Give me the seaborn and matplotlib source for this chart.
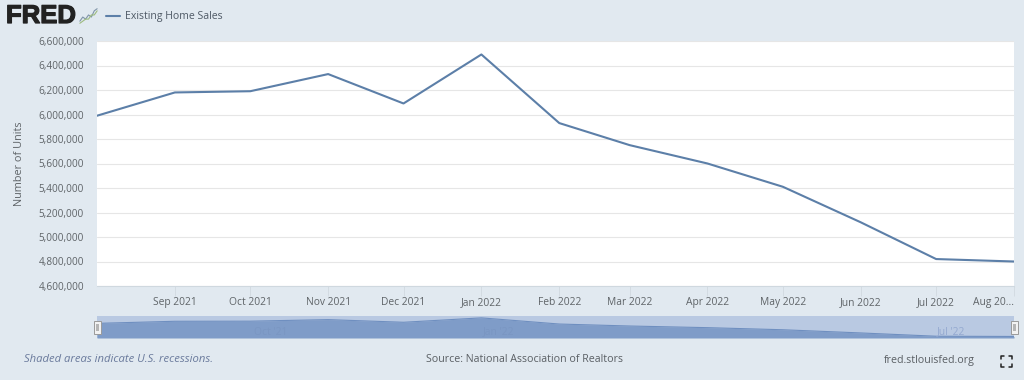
import pandas as pd
import matplotlib
matplotlib.use('Agg')
import matplotlib.pyplot as plt
import matplotlib.patheffects as pe
from matplotlib.ticker import StrMethodFormatter
import seaborn as sns

# data
months = ['2021-08-01', '2021-09-01', '2021-10-01', '2021-11-01', '2021-12-01', '2022-01-01', '2022-02-01',
          '2022-03-01', '2022-04-01', '2022-05-01', '2022-06-01', '2022-07-01', '2022-08-01']
sales = [5990000, 6180000, 6190000, 6330000, 6090000, 6490000, 5930000,
         5750000, 5600000, 5410000, 5120000, 4820000, 4800000]
tick_months = months[1:]
tick_labels = ['Sep 2021', 'Oct 2021', 'Nov 2021', 'Dec 2021', 'Jan 2022', 'Feb 2022',
               'Mar 2022', 'Apr 2022', 'May 2022', 'Jun 2022', 'Jul 2022', 'Aug 20...']
y_ticks = [4600000, 4800000, 5000000, 5200000, 5400000, 5600000, 5800000,
           6000000, 6200000, 6400000, 6600000]
nav_ticks = ['2021-10-09', '2022-01-08', '2022-07-07']
nav_labels = ["Oct '21", "Jan '22", "Jul '22"]
nav_colors = ['#7a96c2', '#7a96c2', '#94a9d0']
icon_a = [1, 3, 2, 4, 3, 6, 7]
icon_b = [0, 1, 2, 2, 4, 4, 6]

sns.set_theme(style='white')
plt.rcParams['font.family'] = ['Open Sans', 'DejaVu Sans']

BG = '#e1e9f0'
LINE = '#5c7fa8'
TXT = '#5f6468'
W, H = 1024, 380

df = pd.DataFrame({'date': pd.to_datetime(months), 'sales': sales})
ticks = pd.to_datetime(tick_months)
xlim = (df['date'].iloc[0], df['date'].iloc[-1])


def box(x0, y0, x1, y1):
    # pixel box (top-left origin) to figure fractions
    return [x0 / W, 1 - y1 / H, (x1 - x0) / W, (y1 - y0) / H]


fig = plt.figure(figsize=(10.24, 3.8), dpi=100, facecolor=BG)

# main chart
ax = fig.add_axes(box(97, 41, 1014, 286))
sns.lineplot(data=df, x='date', y='sales', color=LINE, linewidth=1.5, ax=ax)
ax.set_xlim(xlim)
ax.set_ylim(4600000, 6600000)
ax.set_yticks(y_ticks)
ax.yaxis.set_major_formatter(StrMethodFormatter('{x:,.0f}'))
ax.set_xticks(ticks)
ax.set_xticklabels(tick_labels)
ax.grid(axis='y', color='#e6e6e6', linewidth=0.8)
ax.set_axisbelow(True)
ax.set_xlabel('')
ax.set_ylabel('Number of Units', fontsize=7.8, color=TXT, labelpad=9.5)
ax.tick_params(axis='y', length=0, labelsize=7.2, labelcolor=TXT, pad=9.4)
ax.tick_params(axis='x', bottom=True, length=7, width=0.7, color='#d3dbe2', labelsize=7.4, labelcolor=TXT, pad=1)
ax.get_xticklabels()[-1].set_ha('right')
for side in ['top', 'right', 'left']:
    ax.spines[side].set_visible(False)
ax.spines['bottom'].set_color('#cfd8df')
ax.spines['bottom'].set_linewidth(0.8)

# range navigator under the chart
nav = fig.add_axes(box(97, 316, 1014, 338))
nav.set_facecolor('#b9c9e2')
nav.fill_between(df['date'], sales, 4660000, color='#7f9cc8', lw=0)
sns.lineplot(data=df, x='date', y='sales', color='#6f8fc0', linewidth=0.8, ax=nav)
nav.set_xlim(xlim)
nav.set_ylim(4660000, 6660000)
nav.set_xticks([])
nav.set_yticks([])
nav.set_xlabel('')
nav.set_ylabel('')
for side in nav.spines:
    nav.spines[side].set_visible(False)
for d, lab, col in zip(nav_ticks, nav_labels, nav_colors):
    nav.text(pd.Timestamp(d), 5200000, lab, ha='center', va='center', fontsize=7.4, color=col, clip_on=True)
for px in [97, 1014]:
    fig.add_artist(plt.Rectangle(((px - 3.5) / W, 1 - 334 / H), 7 / W, 13 / H, transform=fig.transFigure,
                                 facecolor='#f2f2f2', edgecolor='#9a9a9a', linewidth=0.7, zorder=5))
    fig.add_artist(plt.Rectangle(((px - 1.5) / W, 1 - 331 / H), 3 / W, 7 / H, transform=fig.transFigure,
                                 facecolor='#b5b5b5', edgecolor='none', zorder=6))

# header
logo = fig.text(6 / W, 1 - 16 / H, 'FRED', fontsize=18.5, fontweight='bold', color='#222222',
                family=['Liberation Sans', 'DejaVu Sans'], va='center', ha='left')
logo.set_path_effects([pe.withStroke(linewidth=0.9, foreground='#222222')])
icon = fig.add_axes(box(79, 8, 98, 24))
icon.plot(icon_a, color='#7f94a8', lw=0.8)
icon.plot(icon_b, color='#9dbb7e', lw=0.8)
icon.axis('off')
fig.add_artist(plt.Line2D([106 / W, 120 / W], [1 - 16 / H] * 2, color=LINE, lw=1.5,
                          transform=fig.transFigure))
fig.text(125 / W, 1 - 16 / H, 'Existing Home Sales', fontsize=7.6, color='#4f5a66', va='center')

# footer
fig.text(24 / W, 1 - 360 / H, 'Shaded areas indicate U.S. recessions.', fontsize=8.1, style='italic',
         color='#6a7a9c', va='center')
fig.text(524 / W, 1 - 359.5 / H, 'Source: National Association of Realtors', fontsize=7.65, color='#5a5f64',
         va='center', ha='center')
fig.text(884 / W, 1 - 360 / H, 'fred.stlouisfed.org', fontsize=7.7, color='#5a5f64', va='center')

# fullscreen icon corners
for cx, sx in [(1001, 1), (1012, -1)]:
    for cy, sy in [(356, 1), (367, -1)]:
        xs = [cx / W, cx / W, (cx + sx * 3) / W]
        ys = [1 - (cy + sy * 3) / H, 1 - cy / H, 1 - cy / H]
        fig.add_artist(plt.Line2D(xs, ys, color='#222222', lw=1.1, transform=fig.transFigure))

fig.savefig('out.png', dpi=100, facecolor=BG)
